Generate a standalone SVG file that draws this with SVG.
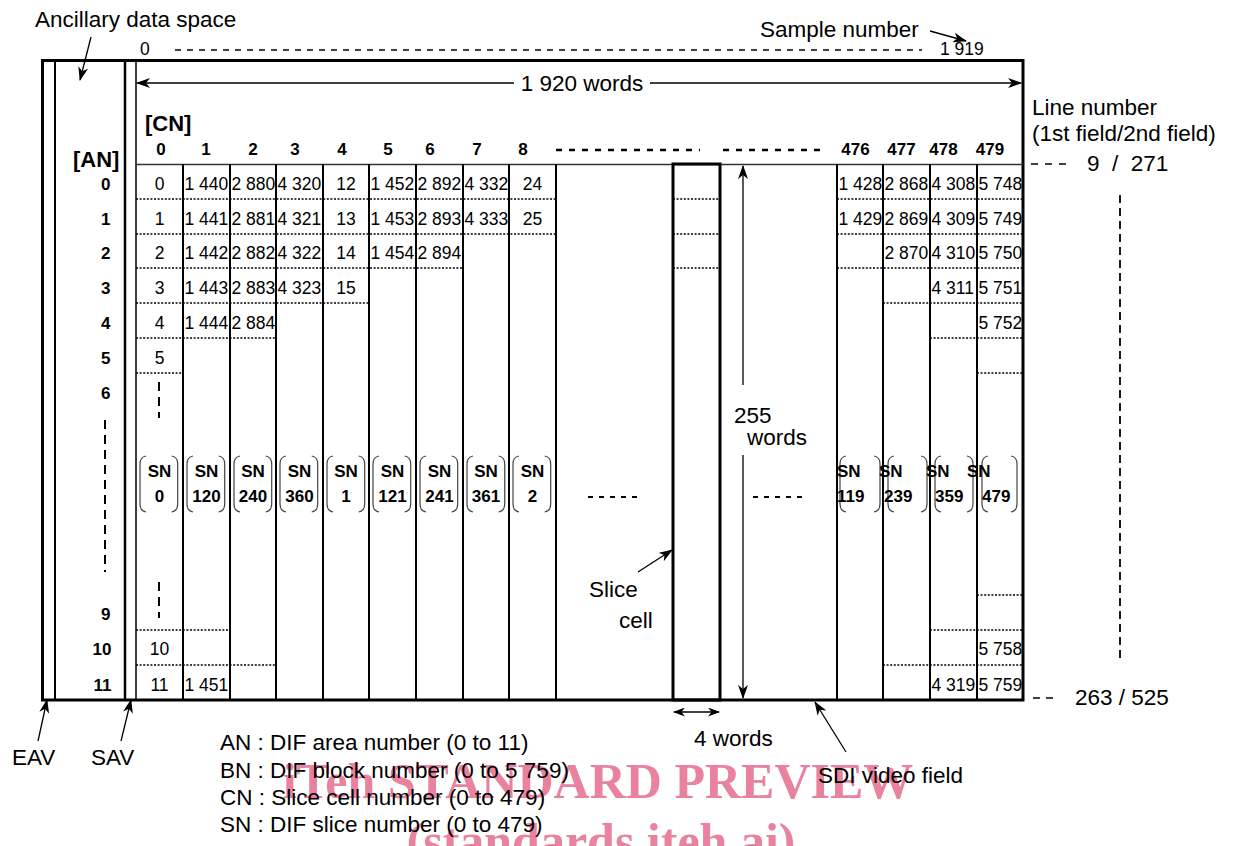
<svg xmlns="http://www.w3.org/2000/svg" width="1241" height="846" viewBox="0 0 1241 846">
<defs>
<style>
text{font-family:"Liberation Sans",Arial,sans-serif;fill:#000}
.lb{font-size:22.5px}
.c{font-size:17.5px}
.h{font-size:17px;font-weight:bold}
.s{font-size:17px;font-weight:bold}
.b{font-size:22px;font-weight:bold}
.m{text-anchor:middle}
.e{text-anchor:end}
.thin{stroke:#000;stroke-width:1.3;fill:none}
.col{stroke:#000;stroke-width:2;fill:none}
.thick{stroke:#000;stroke-width:3;fill:none}
.dot{stroke:#000;stroke-width:1.5;stroke-dasharray:2 1.6;fill:none}
.dash{stroke:#000;stroke-width:2.5;stroke-dasharray:6 7;fill:none}
.dsh{stroke:#000;stroke-width:2;stroke-dasharray:5 6;fill:none}
.vd{stroke:#000;stroke-width:2;stroke-dasharray:9 6;fill:none}
.br{stroke:#444;stroke-width:1.2;fill:none}
.wm{font-family:"Liberation Serif","Times New Roman",serif;font-weight:bold;font-size:50px;fill:#e9829f;text-anchor:middle}
</style>
<marker id="ah" viewBox="0 0 14 10" refX="13" refY="5" markerWidth="14" markerHeight="10" markerUnits="userSpaceOnUse" orient="auto-start-reverse"><path d="M0,0 L14,5 L0,10 L4,5 z" fill="#000"/></marker>
<marker id="as" viewBox="0 0 12 9" refX="11" refY="4.5" markerWidth="12" markerHeight="9" markerUnits="userSpaceOnUse" orient="auto-start-reverse"><path d="M0,0 L12,4.5 L0,9 L3.5,4.5 z" fill="#000"/></marker>
<path id="bl" d="M6,0 Q0,1 0,8 V48 Q0,55 6,56" class="br"/>
<path id="bR" d="M0,0 Q6,1 6,8 V48 Q6,55 0,56" class="br"/>
</defs>
<rect width="1241" height="846" fill="#fff"/>

<g id="watermark">
<text class="wm" x="598" y="798">iTeh STANDARD PREVIEW</text>
<text class="wm" x="601" y="858">(standards.iteh.ai)</text>
</g>

<g id="frame">
<rect x="42.5" y="60.5" width="980.5" height="639.5" class="thick"/>
<path d="M55,60V700" stroke="#000" stroke-width="2"/>
<path d="M125,60V700" stroke="#000" stroke-width="2.5"/>
<path d="M136,60V700" stroke="#000" stroke-width="1.5"/>
<path d="M136,164.5H1023" stroke="#333" stroke-width="1.5"/>
<path class="col" d="M183,164V700M230,164V700M276,164V700M323,164V700M369,164V700M416,164V700M463,164V700M509,164V700M556,164V700M837,164V700M883,164V700M930,164V700M977,164V700"/>
<rect id="slice-cell" x="673" y="164" width="47" height="536" class="thick"/>
</g>

<g id="dotted-rows">
<path class="dot" d="M136,199H556M673,199H720M837,199H1023
M136,234H556M673,234H720M837,234H1023
M136,268H463M673,268H720M837,268H1023
M136,303H369M883,303H1023
M136,338H276M930,338H1023
M136,373H183M977,373H1023
M977,595H1023
M136,630H230M930,630H1023
M136,665H276M883,665H1023"/>
<path class="vd" d="M105,420V572M159,382V418M159,582V618"/>
<path class="dsh" d="M588,497H638M753,497H803"/>
<path class="dash" d="M556,150H700M723,150H822"/>
</g>

<g id="top-labels">
<text class="lb" x="35" y="27">Ancillary data space</text>
<text class="lb" x="760" y="37">Sample number</text>
<text class="c" x="140" y="55">0</text>
<text class="c" x="940" y="55">1 919</text>
<path d="M175,50H922" stroke="#000" stroke-width="1.3" stroke-dasharray="6 6"/>
<text class="lb m" x="582" y="91">1 920 words</text>
<text class="lb" x="1032" y="115">Line number</text>
<text class="lb" x="1032" y="141">(1st field/2nd field)</text>
<path d="M1031,164H1067" stroke="#000" stroke-width="1.5" stroke-dasharray="7 7"/>
<text class="lb" x="1087" y="171">9&#160; /&#160; 271</text>
<path d="M1120,195V662" stroke="#000" stroke-width="1.8" stroke-dasharray="8 5"/>
<path d="M1033,698H1054" stroke="#000" stroke-width="1.5" stroke-dasharray="7 6"/>
<text class="lb" x="1075" y="705">263 / 525</text>
</g>

<g id="header">
<text class="b" x="145" y="131">[CN]</text>
<text class="b" x="73" y="167">[AN]</text>
<g class="h m">
<text x="161" y="155">0</text><text x="206" y="155">1</text><text x="253" y="155">2</text><text x="295" y="155">3</text><text x="342" y="155">4</text><text x="388" y="155">5</text><text x="430" y="155">6</text><text x="477" y="155">7</text><text x="523" y="155">8</text>
<text x="855.5" y="155">476</text><text x="901.5" y="155">477</text><text x="943.5" y="155">478</text><text x="990" y="155">479</text>
</g>
</g>

<g id="area-numbers" class="h e">
<text x="110.5" y="190">0</text><text x="110.5" y="225">1</text><text x="110.5" y="259">2</text><text x="110.5" y="294">3</text><text x="110.5" y="329">4</text><text x="110.5" y="364">5</text><text x="110.5" y="399">6</text><text x="110.5" y="620">9</text><text x="111.5" y="655">10</text><text x="111.5" y="691">11</text>
</g>

<g id="block-numbers" class="c">
<text class="m" x="159.5" y="190">0</text><text x="184.5" y="190">1 440</text><text x="231.5" y="190">2 880</text><text x="277.5" y="190">4 320</text><text class="m" x="346" y="190">12</text><text x="370.5" y="190">1 452</text><text x="417.5" y="190">2 892</text><text x="464.5" y="190">4 332</text><text class="m" x="532.5" y="190">24</text>
<text x="838.5" y="190">1 428</text><text x="884.5" y="190">2 868</text><text x="931.5" y="190">4 308</text><text x="978.5" y="190">5 748</text>
<text class="m" x="159.5" y="225">1</text><text x="184.5" y="225">1 441</text><text x="231.5" y="225">2 881</text><text x="277.5" y="225">4 321</text><text class="m" x="346" y="225">13</text><text x="370.5" y="225">1 453</text><text x="417.5" y="225">2 893</text><text x="464.5" y="225">4 333</text><text class="m" x="532.5" y="225">25</text>
<text x="838.5" y="225">1 429</text><text x="884.5" y="225">2 869</text><text x="931.5" y="225">4 309</text><text x="978.5" y="225">5 749</text>
<text class="m" x="159.5" y="259">2</text><text x="184.5" y="259">1 442</text><text x="231.5" y="259">2 882</text><text x="277.5" y="259">4 322</text><text class="m" x="346" y="259">14</text><text x="370.5" y="259">1 454</text><text x="417.5" y="259">2 894</text>
<text x="884.5" y="259">2 870</text><text x="931.5" y="259">4 310</text><text x="978.5" y="259">5 750</text>
<text class="m" x="159.5" y="294">3</text><text x="184.5" y="294">1 443</text><text x="231.5" y="294">2 883</text><text x="277.5" y="294">4 323</text><text class="m" x="346" y="294">15</text>
<text x="931.5" y="294">4 311</text><text x="978.5" y="294">5 751</text>
<text class="m" x="159.5" y="329">4</text><text x="184.5" y="329">1 444</text><text x="231.5" y="329">2 884</text>
<text x="978.5" y="329">5 752</text>
<text class="m" x="159.5" y="364">5</text>
<text class="m" x="159.5" y="655">10</text><text x="978.5" y="655">5 758</text>
<text class="m" x="159.5" y="691">11</text><text x="184.5" y="691">1 451</text><text x="931.5" y="691">4 319</text><text x="978.5" y="691">5 759</text>
</g>

<g id="slice-numbers">
<use href="#bl" x="140" y="456"/><use href="#bR" x="171.7" y="456"/>
<use href="#bl" x="187" y="456"/><use href="#bR" x="218.7" y="456"/>
<use href="#bl" x="234" y="456"/><use href="#bR" x="265.7" y="456"/>
<use href="#bl" x="280" y="456"/><use href="#bR" x="311.7" y="456"/>
<use href="#bl" x="327" y="456"/><use href="#bR" x="358.7" y="456"/>
<use href="#bl" x="373" y="456"/><use href="#bR" x="404.7" y="456"/>
<use href="#bl" x="420" y="456"/><use href="#bR" x="451.7" y="456"/>
<use href="#bl" x="467" y="456"/><use href="#bR" x="498.7" y="456"/>
<use href="#bl" x="513" y="456"/><use href="#bR" x="544.7" y="456"/>
<use href="#bl" x="840" y="456"/><use href="#bR" x="874" y="456"/>
<use href="#bl" x="888" y="456"/><use href="#bR" x="921" y="456"/>
<use href="#bl" x="935" y="456"/><use href="#bR" x="967" y="456"/>
<use href="#bl" x="982" y="456"/><use href="#bR" x="1011" y="456"/>
<g class="s m">
<text x="159.5" y="477">SN</text><text x="159.5" y="502">0</text>
<text x="206.5" y="477">SN</text><text x="206.5" y="502">120</text>
<text x="253" y="477">SN</text><text x="253" y="502">240</text>
<text x="299.5" y="477">SN</text><text x="299.5" y="502">360</text>
<text x="346" y="477">SN</text><text x="346" y="502">1</text>
<text x="392.5" y="477">SN</text><text x="392.5" y="502">121</text>
<text x="439.5" y="477">SN</text><text x="439.5" y="502">241</text>
<text x="486" y="477">SN</text><text x="486" y="502">361</text>
<text x="532.5" y="477">SN</text><text x="532.5" y="502">2</text>
</g>
<g class="s">
<text x="837" y="477">SN</text><text x="837" y="502">119</text>
<text x="879" y="477">SN</text><text x="884" y="502">239</text>
<text x="926" y="477">SN</text><text x="935" y="502">359</text>
<text x="967" y="477">SN</text><text x="982" y="502">479</text>
</g>
</g>

<g id="annotations">
<text class="lb" x="734" y="423">255</text>
<text class="lb" x="747" y="445">words</text>
<text class="lb" x="589" y="597">Slice</text>
<text class="lb" x="619" y="628">cell</text>
<text class="lb" x="694" y="746">4 words</text>
<text class="lb" x="818" y="783">SDI video field</text>
<text class="lb" x="12" y="765">EAV</text>
<text class="lb" x="91" y="765">SAV</text>
</g>

<g id="legend" class="lb">
<text x="220" y="750">AN : DIF area number (0 to 11)</text>
<text x="220" y="778">BN : DIF block number (0 to 5 759)</text>
<text x="220" y="805">CN : Slice cell number (0 to 479)</text>
<text x="220" y="832">SN : DIF slice number (0 to 479)</text>
</g>

<g id="connectors" class="thin">
<path d="M91,37L80,80" marker-end="url(#ah)"/>
<path d="M930,31L966,41" marker-end="url(#ah)"/>
<path d="M514,83H137" marker-end="url(#ah)"/>
<path d="M650,83H1021" marker-end="url(#ah)"/>
<path d="M743,385V166" marker-end="url(#ah)"/>
<path d="M743,455V698" marker-end="url(#ah)"/>
<path d="M638,572L672,550" marker-end="url(#ah)"/>
<path d="M674,712H719" marker-start="url(#as)" marker-end="url(#as)"/>
<path d="M846,752L815,702" marker-end="url(#ah)"/>
<path d="M38,741L47,700" marker-end="url(#ah)"/>
<path d="M121,741L131,700" marker-end="url(#ah)"/>
</g>
</svg>
